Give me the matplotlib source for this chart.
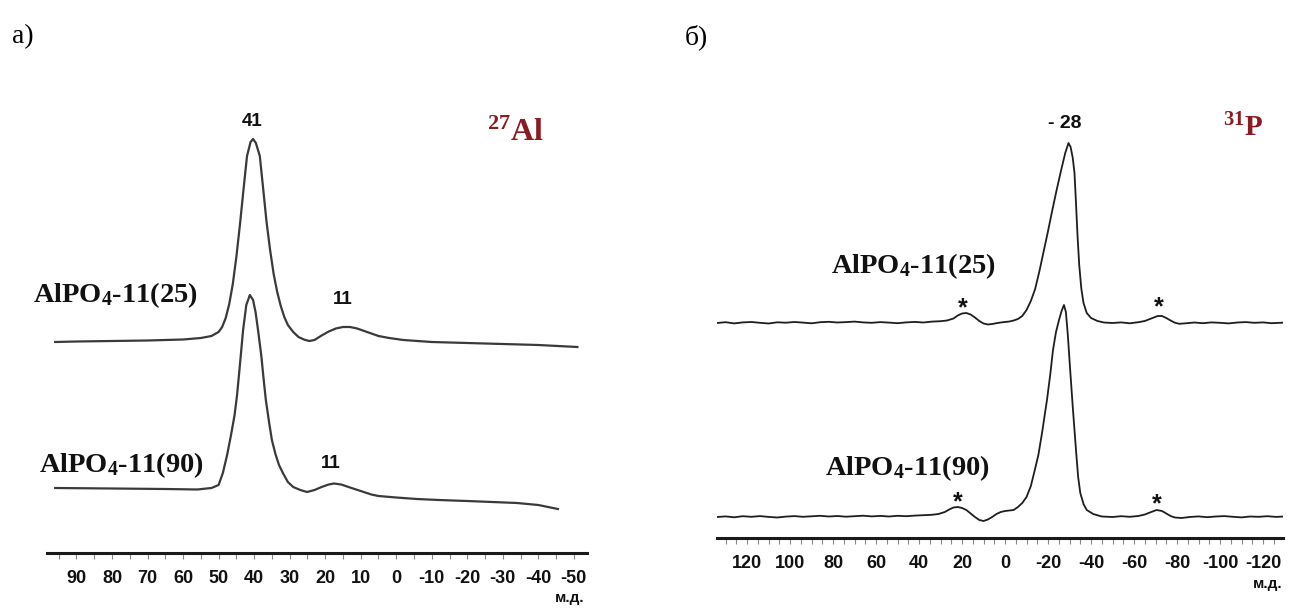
import matplotlib
matplotlib.use('Agg')
import matplotlib.pyplot as plt

plt.rcParams['mathtext.fontset'] = 'custom'
plt.rcParams['mathtext.rm'] = 'Liberation Serif:bold'
plt.rcParams['mathtext.bf'] = 'Liberation Serif:bold'
plt.rcParams['mathtext.it'] = 'Liberation Serif:bold'
plt.rcParams['mathtext.default'] = 'bf'

# 27Al MAS NMR, AlPO4-11(25): shift (ppm) and intensity
al25_ppm = [96, 90, 80, 70, 60, 55, 52, 50, 49, 48, 47, 46, 45, 44, 43, 42, 41, 40.3, 39.5,
            38.4, 37.5, 36.5, 35.5, 34.5, 33.5, 32.5, 31.5, 30.5, 29, 27.5, 26, 24.5, 23, 21,
            19, 17, 15, 13, 11, 9, 7, 5, 2, -2, -10, -20, -30, -40, -51]
al25_int = [0, 0.5, 1, 1.5, 2.5, 4, 6, 10, 15, 24, 38, 58, 85, 117, 152, 186, 200, 203, 199,
            186, 155, 120, 92, 68, 50, 36, 25, 17, 10, 5, 2.5, 1, 2, 6.5,
            10.5, 13.5, 15, 15, 13.5, 11, 8.5, 6, 4, 2, 0, -1, -2, -3, -5]

# 27Al, AlPO4-11(90)
al90_ppm = [96, 80, 65, 56, 52, 50, 48.8, 47.6, 46.5, 45.5, 44.8, 44, 43.1, 42.2, 41.2, 40.3,
            39.6, 38.9, 38, 37.3, 36.7, 35.8, 35, 34, 33, 31.9, 30.5, 29, 27, 25.1, 23, 21, 19,
            17.5, 15.5, 13, 10, 7, 5, 0, -5.8, -12, -19.9, -27, -34, -40, -45.5]
al90_int = [2, 1.5, 1, 0.5, 2, 5, 17, 35, 55, 75, 95, 125, 160, 185, 195, 190,
            178, 160, 135, 110, 90, 68, 50, 36, 25, 17, 8, 3, 0, -2, 0, 3, 5.5,
            6.5, 5.5, 2.5, -1, -4.5, -6, -7.5, -9, -10, -11, -12, -13, -15, -19]

# 31P MAS NMR, AlPO4-11(25)
p25_ppm = [134, 130, 126, 122, 118, 114, 110, 106, 102, 98, 94, 90, 86, 82, 78, 74, 70, 66,
           62, 58, 54, 50, 46, 42, 38, 34, 30, 27, 24, 22, 20, 18, 16, 14, 12, 10, 8, 6, 4,
           2, 0, -2, -4, -6, -8, -10, -12, -14, -16, -18, -20, -22, -24, -26, -28, -29.5,
           -30.5, -31.5, -32.3, -33, -33.7, -34.5, -35.5, -36.5, -38, -40, -43, -46, -50,
           -54, -58, -62, -65, -68, -71, -73, -75, -77, -79, -81, -84, -88, -92, -96, -100,
           -104, -108, -112, -116, -120, -124, -129]
p25_int = [0, 0.8, -0.4, 0.6, 1.0, 0.2, -0.5, 0.7, 0.3, 1.0, 0.4, -0.3, 0.8, 1.2, 0.5, 0.9,
           1.4, 0.6, 0.2, 0.9, 0.4, -0.2, 0.6, 1.1, 0.5, 1.4, 1.8, 2.5, 4.5, 7.5, 9.5, 10,
           8.5, 5.5, 2, -0.5, -1.5, -1, -0.2, 0.5, 1, 1.5, 2.5, 4, 7, 13, 22, 34, 52, 72,
           92, 113, 133, 152, 170, 180, 176, 165, 150, 120, 88, 58, 34, 20, 10, 5, 2, 0.5, 0,
           0.6, -0.3, 0.8, 2, 4.5, 7, 7, 5, 2.5, 0.3, -0.8, -0.3, 0.5, -0.2, 0.6, 0.2,
           -0.4, 0.5, 0.9, 0.2, 0.6, -0.2, 0.3]

# 31P, AlPO4-11(90)
p90_ppm = [134, 130, 126, 122, 118, 114, 110, 106, 102, 98, 94, 90, 86, 82, 78, 74, 70, 66,
           62, 58, 54, 50, 46, 42, 38, 34, 31, 28, 26, 24, 22, 20, 18, 16, 14, 12, 10, 8, 6,
           4, 2, 0, -2, -4, -6, -8, -10, -12, -13.5, -15.5, -17.2, -19.5, -21, -22.3, -23.7,
           -25.1, -26.3, -27.4, -28.3, -29.2, -30.2, -31.5, -33, -34, -35, -36.5, -38, -41,
           -45, -50, -54, -58, -62, -65, -68, -70.5, -73, -75, -77, -79, -82, -86, -90, -94,
           -98, -102, -106, -110, -114, -118, -122, -126, -129]
p90_int = [0, 0.6, -0.3, 0.8, 0.2, 0.9, 0.1, -0.5, 0.4, 0.9, 0.2, 0.7, 1.2, 0.5, 1.0, 0.3,
           0.8, 1.3, 0.6, 1.1, 0.5, 1.2, 0.8, 1.4, 1.8, 2.2, 3, 5, 7.5, 9.5, 10, 9, 7, 3.5,
           0, -3, -4, -2.5, 0, 3, 5, 6, 6.5, 7, 10, 14, 20, 31, 44, 62, 84, 117, 142, 167,
           185, 197, 206, 212, 205, 182, 150, 110, 67, 40, 24, 13, 7, 3,
           0.5, 0, 0.8, 0.2, 1, 2.5, 5, 7, 6, 3.5, 1, -0.5, -1, 0, 0.6, -0.2,
           0.5, 0.9, 0.2, -0.4, 0.5, 0.2, 0.8, 0.1, 0.4]

al_ticks = [90, 80, 70, 60, 50, 40, 30, 20, 10, 0, -10, -20, -30, -40, -50]
p_ticks = [120, 100, 80, 60, 40, 20, 0, -20, -40, -60, -80, -100, -120]

W, H = 1295, 608
fig = plt.figure(figsize=(W / 100, H / 100), dpi=100)

serif_bold = dict(family='Liberation Serif', weight='bold')
sans_bold = dict(family='Liberation Sans', weight='bold')
dark_red = '#8b1a22'


def make_axes(x0, x1, yaxis, xlim, ticks, minor):
    ax = fig.add_axes([x0 / W, (H - yaxis) / H, (x1 - x0) / W, yaxis / H])
    ax.set_xlim(*xlim)
    ax.set_ylim(0, yaxis)
    for s in ['left', 'right', 'top']:
        ax.spines[s].set_visible(False)
    ax.spines['bottom'].set_linewidth(2.2)
    ax.spines['bottom'].set_color('#1a1a1a')
    ax.set_yticks([])
    ax.set_xticks(ticks, [str(t) for t in ticks])
    ax.set_xticks(minor, minor=True)
    ax.tick_params(axis='x', which='both', direction='out', length=4, width=0.8,
                   color='#888888', pad=8)
    for lab in ax.get_xticklabels():
        lab.set_fontproperties('Liberation Sans')
        lab.set_fontweight('bold')
        lab.set_fontsize(13)
        lab.set_color('#111111')
    ax.patch.set_alpha(0)
    return ax


# panel a) 27Al
ax1 = make_axes(47, 587, 553, (98.3, -53.7), al_ticks, list(range(95, -55, -5)))
off25, off90 = 211, 63
ax1.plot(al25_ppm, [v + off25 for v in al25_int], color='#3a3a3a', lw=1.6)
ax1.plot(al90_ppm, [v + off90 for v in al90_int], color='#3a3a3a', lw=1.6)
ax1.text(40.5, 431, '41', ha='center', va='center', fontsize=13.5, color='#111', **sans_bold)
ax1.text(15, 253, '11', ha='center', va='center', fontsize=13.5, color='#111', **sans_bold)
ax1.text(18.5, 90, '11', ha='center', va='center', fontsize=13.5, color='#111', **sans_bold)
ax1.text(55.8, 258, r'AlPO$_4$-11(25)', ha='right', va='center', fontsize=20.5, color='#111',
         **serif_bold)
ax1.text(54.2, 88, r'AlPO$_4$-11(90)', ha='right', va='center', fontsize=20.5, color='#111',
         **serif_bold)
ax1.text(-33.5, 420, r'$^{27}$Al', ha='center', va='center', fontsize=23, color=dark_red,
         **serif_bold)

# panel б) 31P
ax2 = make_axes(717, 1283, 538, (134, -129.3), p_ticks, list(range(130, -130, -5)))
poff25, poff90 = 215, 21
ax2.plot(p25_ppm, [v + poff25 for v in p25_int], color='#1e1e1e', lw=1.3)
ax2.plot(p90_ppm, [v + poff90 for v in p90_int], color='#1e1e1e', lw=1.3)
ax2.text(-27.9, 414, '- 28', ha='center', va='center', fontsize=14, color='#111', **sans_bold)
ax2.text(4.2, 272, r'AlPO$_4$-11(25)', ha='right', va='center', fontsize=20.5, color='#111',
         **serif_bold)
ax2.text(7, 70, r'AlPO$_4$-11(90)', ha='right', va='center', fontsize=20.5, color='#111',
         **serif_bold)
ax2.text(-110.7, 410, r'$^{31}$P', ha='center', va='center', fontsize=21, color=dark_red,
         **serif_bold)
for sx, sy in [(19.5, 237), (-71.6, 238), (21.9, 43), (-70.7, 41)]:
    ax2.text(sx, sy - 7, '*', ha='center', va='center', fontsize=18, color='#111', **sans_bold)

fig.text(585 / W, 1 - 598 / H, 'м.д.', ha='right', va='center', fontsize=11, color='#111',
         **sans_bold)
fig.text(1283 / W, 1 - 584 / H, 'м.д.', ha='right', va='center', fontsize=11, color='#111',
         **sans_bold)
fig.text(12 / W, 1 - 37 / H, 'а)', ha='left', va='center', fontsize=20, family='Liberation Serif')
fig.text(685 / W, 1 - 37 / H, 'б)', ha='left', va='center', fontsize=20, family='Liberation Serif')

fig.savefig('out.png', dpi=100)
